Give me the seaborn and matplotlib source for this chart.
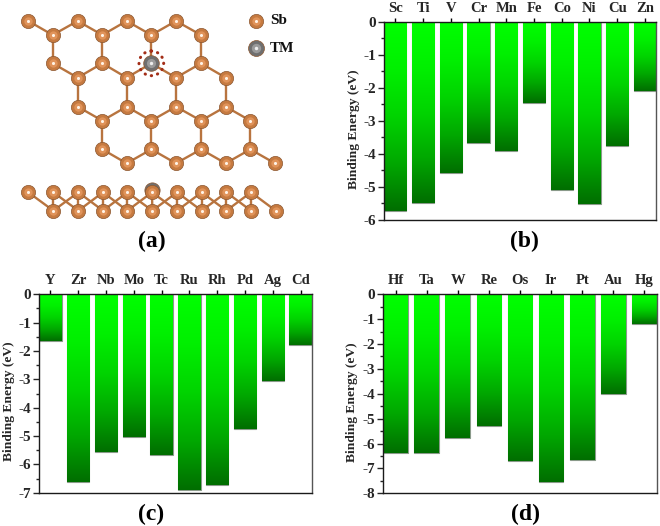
import numpy as np
import pandas as pd
import matplotlib
matplotlib.use("Agg")
import matplotlib.pyplot as plt
from matplotlib.colors import LinearSegmentedColormap
from matplotlib.patches import Circle
from matplotlib.ticker import MultipleLocator
import seaborn as sns

# ===============================
# BINDING ENERGY DATA
# ===============================

metals_b = ["Sc", "Ti", "V", "Cr", "Mn", "Fe", "Co", "Ni", "Cu", "Zn"]
energy_b = [-5.75, -5.48, -4.58, -3.68, -3.93, -2.45, -5.11, -5.52, -3.78, -2.09]

metals_c = ["Y", "Zr", "Nb", "Mo", "Tc", "Ru", "Rh", "Pd", "Ag", "Cd"]
energy_c = [-1.65, -6.64, -5.57, -5.03, -5.67, -6.90, -6.73, -4.77, -3.05, -1.80]

metals_d = ["Hf", "Ta", "W", "Re", "Os", "Ir", "Pt", "Au", "Hg"]
energy_d = [-6.38, -6.36, -5.79, -5.30, -6.71, -7.56, -6.65, -4.00, -1.19]

# ===============================
# ATOM SKETCH DATA (panel a)
# ===============================

top_rows_y = [63, 105, 190, 233, 320, 362, 448, 490]
top_rows_x = [
    [85, 233, 380, 528],
    [158, 307, 454, 603],
    [158, 307, 454, 603],
    [233, 380, 528, 677],
    [233, 380, 528, 677],
    [307, 454, 603, 751],
    [307, 454, 603, 751],
    [380, 528, 677, 825],
]
tm_site = (454, 190)

side_top_x = [85, 160, 235, 309, 382, 456, 531, 605, 679, 753]
side_bot_x = [160, 235, 309, 382, 457, 531, 605, 679, 753, 827]
side_top_y = 577
side_bot_y = 632

legend_atoms_x = [768, 768]
legend_atoms_y = [63, 145]

sns.set_theme(style="ticks")
plt.rcParams["font.family"] = ["Liberation Serif", "DejaVu Serif"]
plt.rcParams["font.weight"] = "bold"

FIG_W, FIG_H = 660, 526
fig = plt.figure(figsize=(FIG_W / 100, FIG_H / 100), dpi=100, facecolor="white")


def px_axes(left, top, right, bottom):
    return fig.add_axes([left / FIG_W, 1 - bottom / FIG_H,
                         (right - left) / FIG_W, (bottom - top) / FIG_H])


green = LinearSegmentedColormap.from_list(
    "bars", [(0, "#00ff00"), (0.25, "#00f000"), (0.5, "#00d400"), (0.75, "#00a800"), (1, "#006e00")]
)
gradient = np.linspace(0, 1, 256).reshape(-1, 1)


def energy_panel(box, metals, energy, ymin, label_x):
    ax = px_axes(*box)
    df = pd.DataFrame({"metal": metals, "energy": energy})
    sns.barplot(data=df, x="metal", y="energy", ax=ax, color="#00ff00",
                width=0.8, saturation=1, edgecolor="#8a9a8a", linewidth=0.8)

    # paint the vertical gradient over each bar
    for bar in ax.patches:
        x0 = bar.get_x()
        w = bar.get_width()
        h = bar.get_height()
        ax.imshow(gradient, cmap=green, aspect="auto", vmin=0, vmax=1,
                  interpolation="bilinear",
                  extent=(x0, x0 + w, min(h, 0), 0), zorder=2)

    ax.xaxis.tick_top()
    ax.set_xlabel("")
    ax.set_ylabel("Binding Energy (eV)", fontsize=9.7, fontweight="bold", va="center")
    # label sits a bit below the middle of the axis in the original
    width_px = box[2] - box[0]
    height_px = box[3] - box[1]
    ax.yaxis.set_label_coords((label_x - box[0]) / width_px, 0.5 - 8 / height_px)
    ticks = list(range(ymin, 1))
    ax.set_yticks(ticks)
    ax.set_yticklabels([str(t) for t in ticks])
    ax.yaxis.set_minor_locator(MultipleLocator(0.5))
    ax.set_xlim(-0.4, len(metals) - 0.6)
    ax.set_ylim(ymin, 0)
    ax.tick_params(axis="x", length=3, width=1, pad=2, labelsize=10.5, color="black")
    ax.tick_params(axis="y", which="major", length=4, width=1, pad=2, labelsize=11)
    ax.tick_params(axis="y", which="minor", length=2, width=1)
    for label in ax.get_xticklabels() + ax.get_yticklabels():
        label.set_fontweight("bold")
    for side in ax.spines.values():
        side.set_visible(True)
        side.set_color("#1a1a1a")
        side.set_linewidth(1)
    ax.spines["right"].set_color("#555555")
    return ax


energy_panel((384.3, 21.7, 656, 219.7), metals_b, energy_b, -6, 354)
energy_panel((39.3, 294.3, 311.7, 492.7), metals_c, energy_c, -7, 9)
energy_panel((383.3, 294.3, 656.7, 493.3), metals_d, energy_d, -8, 352)

# ===============================
# PANEL (a) - ATOM SKETCH
# ===============================

ax_a = px_axes(0, 0, 330, 260)
ax_a.set_xlim(0, 990)
ax_a.set_ylim(780, 0)
ax_a.axis("off")

BOND = "#b8743f"


def bond(p, q):
    ax_a.plot([p[0], q[0]], [p[1], q[1]], color=BOND, lw=1.7, zorder=1,
              solid_capstyle="round")


# bonds in the top view: rows alternate zigzag and vertical links
for i in range(len(top_rows_y) - 1):
    upper = [(x, top_rows_y[i]) for x in top_rows_x[i]]
    lower = [(x, top_rows_y[i + 1]) for x in top_rows_x[i + 1]]
    if i % 2 == 1:
        for p, q in zip(upper, lower):
            bond(p, q)
    else:
        for j in range(4):
            bond(upper[j], lower[j])
            if j < 3:
                bond(upper[j + 1], lower[j])

# bonds in the side view
for i in range(len(side_top_x)):
    bond((side_top_x[i], side_top_y), (side_bot_x[i], side_bot_y))
    if i > 0:
        bond((side_top_x[i], side_top_y), (side_bot_x[i - 1], side_bot_y))
    if i > 1:
        bond((side_top_x[i], side_top_y), (side_bot_x[i - 2], side_bot_y))


def atoms(xs, ys, colors, scale=1.0, z=3):
    # shaded sphere built from three stacked markers
    base, mid, shine = colors
    sns.scatterplot(x=xs, y=ys, ax=ax_a, s=105 * scale, color=base,
                    edgecolor="#8a5630", linewidth=0.5, zorder=z, legend=False)
    sns.scatterplot(x=xs, y=ys, ax=ax_a, s=36 * scale, color=mid,
                    linewidth=0, zorder=z + 0.1, legend=False)
    sns.scatterplot(x=xs, y=ys, ax=ax_a, s=5 * scale, color=shine,
                    linewidth=0, zorder=z + 0.2, legend=False)


SB = ("#c67a40", "#e0935a", "#fff3e6")
TM = ("#6f6f6f", "#9a9a9a", "#eeeeee")

top_x, top_y = [], []
for y, row in zip(top_rows_y, top_rows_x):
    for x in row:
        if (x, y) != tm_site:
            top_x.append(x)
            top_y.append(y)

atoms(top_x, top_y, SB)
atoms([tm_site[0]], [tm_site[1]], TM, scale=1.2, z=4)
ax_a.add_patch(Circle(tm_site, 37, fill=False, edgecolor="#a32d17", lw=2.2,
                      linestyle=(0, (0.1, 2.0)), capstyle="round", zorder=5))

atoms(side_top_x[5:6], [side_top_y - 6], TM, scale=1.15, z=2.5)
atoms(side_top_x, [side_top_y] * len(side_top_x), SB)
atoms(side_bot_x, [side_bot_y] * len(side_bot_x), SB)

atoms(legend_atoms_x[:1], legend_atoms_y[:1], SB)
atoms(legend_atoms_x[1:], legend_atoms_y[1:], TM, scale=1.25)
ax_a.text(812, 63, "Sb", fontsize=11, fontweight="bold", va="center", color="#111111")
ax_a.text(808, 145, "TM", fontsize=11, fontweight="bold", va="center", color="#111111")

# panel letters
for letter, x, y in [("(a)", 152, 241), ("(b)", 524, 241), ("(c)", 151, 514), ("(d)", 525, 514)]:
    fig.text(x / FIG_W, 1 - y / FIG_H, letter, fontsize=17, fontweight="bold",
             ha="center", va="center", color="black")

fig.savefig("out.png", dpi=100)
